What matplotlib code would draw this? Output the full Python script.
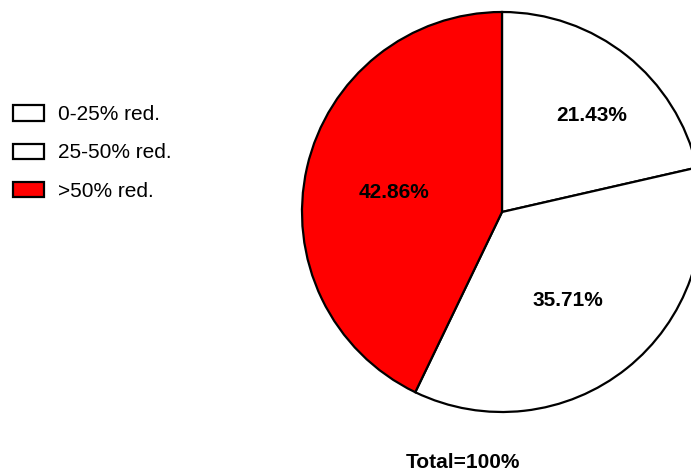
import numpy as np
import matplotlib
matplotlib.use("Agg")
import matplotlib.pyplot as plt
from matplotlib.patches import Patch

plt.rcParams["font.family"] = ["Liberation Sans", "DejaVu Sans"]

categories = ["0-25% red.", "25-50% red.", ">50% red."]
values = [21.43, 35.71, 42.86]
colors = ["white", "white", "#ff0000"]
total_text = "Total=100%"

# label placement (radius fraction, angle offset from wedge middle in degrees)
label_dist = [0.66, 0.55, 0.55]
label_dang = [-4.2, -1.9, 2.4]

W, H = 691, 474
fig = plt.figure(figsize=(W / 100, H / 100), dpi=100)

# pie centre ~ (502, 212) px from top-left, radius ~200 px
cx, cy, r = 502, 212, 200
pad = 1.05
ax = fig.add_axes([(cx - r * pad) / W, (H - cy - r * pad) / H, 2 * r * pad / W, 2 * r * pad / H])
wedges, _ = ax.pie(values, colors=colors, startangle=90, counterclock=False,
                   radius=1.0, wedgeprops=dict(edgecolor="black", linewidth=1.6))
ax.set_xlim(-pad, pad)
ax.set_ylim(-pad, pad)
ax.set_aspect("equal")
ax.axis("off")

for w, v, d, da in zip(wedges, values, label_dist, label_dang):
    ang = np.deg2rad((w.theta1 + w.theta2) / 2 + da)
    ax.text(d * np.cos(ang), d * np.sin(ang), f"{v:.2f}%", ha="center", va="center",
            fontsize=15, fontweight="bold")

handles = [Patch(facecolor=c, edgecolor="black", linewidth=1.6) for c in colors]
fig.legend(handles, categories, loc="upper left", bbox_to_anchor=(5 / W, 1 - 97 / H),
           frameon=False, fontsize=15, handlelength=1.45, handleheight=0.75,
           handletextpad=0.7, labelspacing=0.92, borderaxespad=0.0, borderpad=0.4)

fig.text(463 / W, 1 - 463 / H, total_text, ha="center", va="center",
         fontsize=15, fontweight="bold")

fig.savefig("out.png", dpi=100)
